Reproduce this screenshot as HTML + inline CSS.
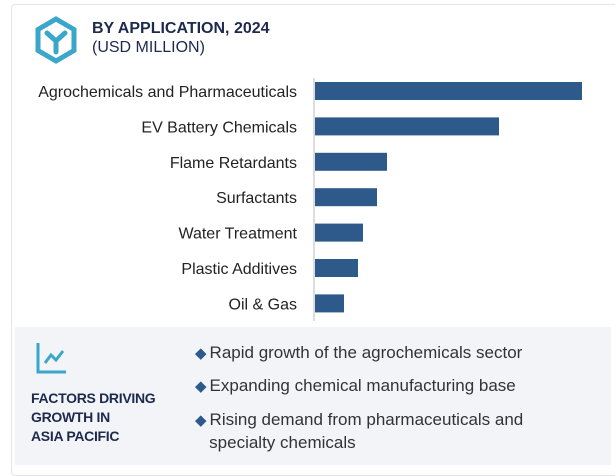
<!DOCTYPE html>
<html><head><meta charset="utf-8">
<style>
body{margin:0;width:615px;height:469px;background:#fff;font-family:"Liberation Sans",sans-serif;overflow:hidden;position:relative}
.card{position:absolute;left:11px;top:4px;width:620px;height:470px;border:1px solid #e3e6ea;border-radius:4px}
.title{position:absolute;left:92px;top:20px;font-weight:bold;font-size:16px;color:#1d2a4d}
.sub{position:absolute;left:92px;top:39px;font-size:16px;color:#1d2a4d}
.panel{position:absolute;left:15px;top:327px;width:596px;height:138px;background:#f3f4f8}
.ft{position:absolute;left:16px;top:62px;font-weight:bold;font-size:14px;color:#1d2a4d;line-height:19px;letter-spacing:-0.3px}
.b{position:absolute;left:180px;font-size:17px;color:#333;line-height:22px}
.b span{color:#2c5a8a;font-size:15px;margin-right:3px}
</style></head><body>
<div class="card"></div>
<svg width="615" height="469" style="position:absolute;left:0;top:0">
<g>
<polygon points="56,19 74,29.5 74,50.5 56,61 38,50.5 38,29.5" fill="none" stroke="#3aa6c9" stroke-width="5"/>
<path d="M47,33 L56,41 L65,33 M56,41 L56,52" fill="none" stroke="#3aa6c9" stroke-width="5" stroke-linecap="round"/>
</g>
<g id="bars"></g>
<line x1="314" y1="78" x2="314" y2="321" stroke="#bbb"/>
</svg>
<div class="title">BY APPLICATION, 2024</div>
<div class="sub">(USD MILLION)</div>
<div class="panel">
<svg width="40" height="40" style="position:absolute;left:20px;top:14px">
<path d="M3,2 V31 H31" fill="none" stroke="#3aa6c9" stroke-width="3"/>
<path d="M10,22 L16,14 L21,19 L28,10" fill="none" stroke="#3aa6c9" stroke-width="3"/>
</svg>
<div class="ft">FACTORS DRIVING<br>GROWTH IN<br>ASIA PACIFIC</div>
<div class="b" style="top:15px"><span>◆</span>Rapid growth of the agrochemicals sector</div>
<div class="b" style="top:48px"><span>◆</span>Expanding chemical manufacturing base</div>
<div class="b" style="top:82px"><span>◆</span>Rising demand from pharmaceuticals and<br>&nbsp;&nbsp;&nbsp;specialty chemicals</div>
</div>
<script>
const categories=["Agrochemicals and Pharmaceuticals","EV Battery Chemicals","Flame Retardants","Surfactants","Water Treatment","Plastic Additives","Oil & Gas"];
const values=[267,184,72,62,48,43,29];
const xMax=300;
function x(v){return 314+v/xMax*300;}
function y(i){return 91+i*35.4;}
const g=document.getElementById('bars');
const NS="http://www.w3.org/2000/svg";
categories.forEach((c,i)=>{
 const r=document.createElementNS(NS,'rect');
 r.setAttribute('x',x(0)+1);r.setAttribute('y',y(i)-9);
 r.setAttribute('width',x(values[i])-x(0));r.setAttribute('height',18);
 r.setAttribute('fill','#2d5a8a');
 
 
 g.appendChild(r);
 const t=document.createElementNS(NS,'text');
 t.setAttribute('x',297);t.setAttribute('y',y(i)+6);
 t.setAttribute('text-anchor','end');t.setAttribute('font-size','16');
 t.setAttribute('fill','#222');t.setAttribute('font-family','Liberation Sans, sans-serif');
 t.textContent=c;
 
 
 g.appendChild(t);
});
</script>
</body></html>
